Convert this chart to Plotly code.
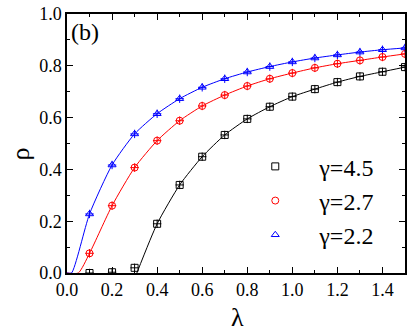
import plotly.graph_objects as go

lam = [0.1, 0.2, 0.3, 0.4, 0.5, 0.6, 0.7, 0.8, 0.9, 1.0, 1.1, 1.2, 1.3, 1.4, 1.5]
rho_45 = [0.0, 0.003, 0.02, 0.19, 0.34, 0.449, 0.533, 0.595, 0.642, 0.681, 0.710, 0.737, 0.759, 0.777, 0.795]
rho_27 = [0.076, 0.260, 0.407, 0.511, 0.588, 0.645, 0.687, 0.722, 0.750, 0.772, 0.792, 0.808, 0.821, 0.834, 0.846]
rho_22 = [0.228, 0.417, 0.537, 0.615, 0.673, 0.717, 0.750, 0.776, 0.797, 0.815, 0.830, 0.842, 0.853, 0.862, 0.869]

# fitted curves
lam_fit_45 = [0.31, 0.4, 0.5, 0.6, 0.7, 0.8, 0.9, 1.0, 1.1, 1.2, 1.3, 1.4, 1.5]
fit_45 = [0.0, 0.19, 0.34, 0.449, 0.533, 0.595, 0.642, 0.681, 0.710, 0.737, 0.759, 0.777, 0.795]
lam_fit_27 = [0.0, 0.05, 0.1, 0.2, 0.3, 0.4, 0.5, 0.6, 0.7, 0.8, 0.9, 1.0, 1.1, 1.2, 1.3, 1.4, 1.5]
fit_27 = [0.0, 0.0, 0.076, 0.260, 0.407, 0.511, 0.588, 0.645, 0.687, 0.722, 0.750, 0.772, 0.792, 0.808, 0.821, 0.834, 0.846]
lam_fit_22 = [0.0, 0.02, 0.1, 0.2, 0.3, 0.4, 0.5, 0.6, 0.7, 0.8, 0.9, 1.0, 1.1, 1.2, 1.3, 1.4, 1.5]
fit_22 = [0.0, 0.0, 0.228, 0.417, 0.537, 0.615, 0.673, 0.717, 0.750, 0.776, 0.797, 0.815, 0.830, 0.842, 0.853, 0.862, 0.869]

labels = ["γ=4.5", "γ=2.7", "γ=2.2"]
colors = ["#000000", "#ff0000", "#0000ff"]
symbols = ["square-open", "circle-open", "triangle-up-open"]
SERIF = "Liberation Serif"
PAD = "\u00a0" * 4

fig = go.Figure()
fits = [(lam_fit_45, fit_45), (lam_fit_27, fit_27), (lam_fit_22, fit_22)]
for (lx, ly), c in zip(fits, colors):
    fig.add_trace(go.Scatter(x=lx, y=ly, mode="lines", line=dict(color=c, width=1, shape="spline", smoothing=0.6),
                             showlegend=False, hoverinfo="skip", cliponaxis=True))
for ys, c in zip([rho_45, rho_27, rho_22], colors):
    fig.add_trace(go.Scatter(x=lam, y=ys, mode="markers", marker=dict(symbol="cross-thin-open", size=6, color=c, line=dict(color=c, width=1)),
                             showlegend=False, hoverinfo="skip", cliponaxis=True))
for ys, c, s, n in zip([rho_45, rho_27, rho_22], colors, symbols, labels):
    fig.add_trace(go.Scatter(x=lam, y=ys, mode="markers", name=PAD + n,
                             marker=dict(symbol=s, size=7, color=c, line=dict(color=c, width=1)), cliponaxis=True))

axis_common = dict(showline=True, mirror="allticks", linecolor="black", linewidth=1.5,
                   ticks="inside", ticklen=6, tickwidth=1, tickcolor="black",
                   showgrid=False, zeroline=False, automargin=False,
                   minor=dict(ticks="inside", ticklen=3, tickwidth=1, tickcolor="black", dtick=0.1),
                   tickfont=dict(family=SERIF, size=18, color="black"))

fig.update_xaxes(range=[0, 1.5], dtick=0.2, tick0=0, tickformat=".1f", **axis_common)
fig.update_yaxes(range=[0, 1.0], dtick=0.2, tick0=0, tickformat=".1f", **axis_common)

fig.add_annotation(text="λ", xref="paper", yref="paper", x=0.503, y=-0.17, xanchor="center", yanchor="middle",
                   showarrow=False, font=dict(family=SERIF, size=26, color="black"))
fig.add_annotation(text="ρ", xref="paper", yref="paper", x=-0.138, y=0.459, xanchor="center", yanchor="middle",
                   textangle=-90, showarrow=False, font=dict(family=SERIF, size=26, color="black"))
fig.add_annotation(text="(b)", xref="paper", yref="paper", x=0.005, y=0.99, xanchor="left", yanchor="top",
                   showarrow=False, font=dict(family=SERIF, size=24, color="black"))

fig.update_layout(width=407, height=327, margin=dict(l=67, r=2, t=14, b=54),
                  font=dict(family=SERIF, color="black"),
                  paper_bgcolor="white", plot_bgcolor="white",
                  legend=dict(x=0.557, y=0.497, xanchor="left", yanchor="top", bgcolor="rgba(0,0,0,0)",
                              font=dict(family=SERIF, size=24, color="black"),
                              tracegroupgap=0))

fig.write_html("out.html", config={"displayModeBar": False},
               post_script="document.body.style.margin='0';document.body.style.padding='0';document.body.style.overflow='hidden';")
